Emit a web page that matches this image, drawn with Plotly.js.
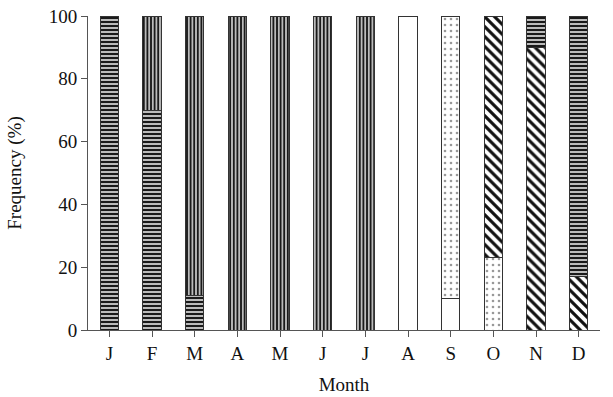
<!DOCTYPE html>
<html><head><meta charset="utf-8">
<script src="https://cdn.plot.ly/plotly-3.0.1.min.js"></script>
<style>body{margin:0;padding:0;background:#fff}#c{width:613px;height:397px}</style>
</head><body><div id="c"></div>
<script>
const months = ["J","F","M","A","M","J","J","A","S","O","N","D"];
const cats = months.map((m,i)=>i);
// stages, stacked bottom to top
const blank      = [0,0,0,0,0,0,0,100,10,0,0,0];
const dotted     = [0,0,0,0,0,0,0,0,90,23,0,0];
const diagonal   = [0,0,0,0,0,0,0,0,0,77,90,17];
const horizontal = [100,70,11,0,0,0,0,0,0,0,10,83];
const vertical   = [0,30,89,100,100,100,100,0,0,0,0,0];

const line = {color:"#333", width:1};
function tr(y, pat){
  return {type:"bar", x:cats, y:y, width:0.43, marker:{color:"#fff", line:line, pattern:pat}, hoverinfo:"none"};
}
const data = [
  tr(blank, {shape:""}),
  tr(dotted, {shape:".", fgcolor:"#999", bgcolor:"#fff", size:6, solidity:0.15}),
  tr(diagonal, {shape:"\\", fgcolor:"#111", bgcolor:"#fff", size:7, solidity:0.45}),
  tr(horizontal, {shape:"-", fgcolor:"#1a1a1a", bgcolor:"#bbb", size:4, solidity:0.5}),
  tr(vertical, {shape:"|", fgcolor:"#1a1a1a", bgcolor:"#bbb", size:3.6, solidity:0.5})
];
const font = {family:"Liberation Serif, Times New Roman, serif", size:19, color:"#111"};
const layout = {
  width:613, height:397, barmode:"stack", showlegend:false,
  paper_bgcolor:"#fff", plot_bgcolor:"#fff", font:font,
  margin:{l:88, r:13, t:16, b:67},
  xaxis:{range:[-0.5,11.5], tickmode:"array", tickvals:cats, ticktext:months, tickson:"boundaries",
    ticks:"outside", ticklen:6, tickcolor:"#555", showline:true, linecolor:"#555", linewidth:1,
    showgrid:false, zeroline:false, title:{text:"Month", font:font, standoff:14}},
  yaxis:{range:[0,100], tickvals:[0,20,40,60,80,100], ticks:"outside", ticklen:6, tickcolor:"#555",
    showline:true, linecolor:"#555", linewidth:1, showgrid:false, zeroline:false,
    title:{text:"Frequency (%)", font:font, standoff:22}}
};
Plotly.newPlot("c", data, layout, {staticPlot:true});
</script></body></html>
